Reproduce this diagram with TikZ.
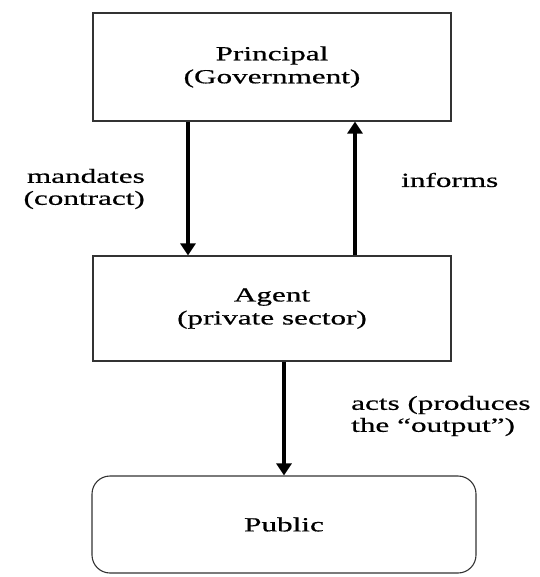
\documentclass[tikz,border=0pt]{standalone}
\usepackage{fontspec}
\setmainfont{Liberation Serif}[FakeStretch=1.56,FakeBold=0.6]
\usetikzlibrary{arrows.meta}
\begin{document}
\begin{tikzpicture}[x=1pt,y=-1pt,
  box/.style={draw=black!80, line width=1.1pt, minimum width=358pt, align=center,
    font=\fontsize{20}{23}\selectfont, inner sep=0pt},
  lbl/.style={font=\fontsize{20}{22}\selectfont, inner sep=0pt},
  arr/.style={line width=3.4pt, -{Triangle[width=15pt,length=12pt]}}]
\useasboundingbox (0,0) rectangle (539,577);
\node[box, minimum height=108pt] (P) at (272,67) {Principal\\(Government)};
\node[box, minimum height=105pt] (A) at (272,308.5) {Agent\\(private sector)};
\node[box, minimum width=384pt, minimum height=97pt, rounded corners=18pt] (U) at (284,524.5) {Public};
\coordinate (xm) at (188,0);
\coordinate (xi) at (355,0);
\coordinate (xa) at (284,0);
\draw[arr] (P.south -| xm) -- (A.north -| xm);
\draw[arr] (A.north -| xi) -- (P.south -| xi);
\draw[arr] (A.south -| xa) -- (U.north -| xa);
\node[lbl, align=right, anchor=east] (lm) at (145,189) {mandates\\(contract)};
\node[lbl, anchor=west] (li) at (401,180) {informs};
\node[lbl, align=left, anchor=west] (la) at (351,416) {acts (produces\\the ``output'')};
\end{tikzpicture}
\end{document}
